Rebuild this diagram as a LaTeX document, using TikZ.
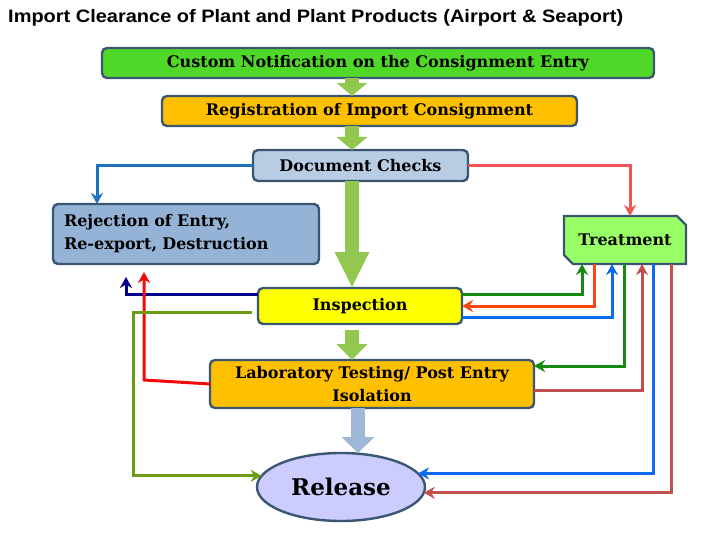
\documentclass[tikz,border=0pt]{standalone}
\usepackage{fontspec}
\setmainfont{DejaVu Serif}
\newfontfamily\titlefont{Liberation Sans}
\usetikzlibrary{arrows.meta, shapes.geometric}

\definecolor{boxline}{RGB}{59,86,114}
\definecolor{notifygreen}{RGB}{80,216,40}
\definecolor{regorange}{RGB}{255,192,0}
\definecolor{docfill}{RGB}{184,204,228}
\definecolor{rejectfill}{RGB}{149,179,215}
\definecolor{treatfill}{RGB}{153,255,102}
\definecolor{inspyellow}{RGB}{255,255,0}
\definecolor{releasefill}{RGB}{204,204,255}
\definecolor{arrowgreen}{RGB}{146,200,80}
\definecolor{arrowblue}{RGB}{160,184,216}
\definecolor{docblue}{RGB}{30,115,190}
\definecolor{docred}{RGB}{240,85,85}
\definecolor{navy}{RGB}{0,0,140}
\definecolor{labred}{RGB}{240,10,10}
\definecolor{olive}{RGB}{110,155,20}
\definecolor{okgreen}{RGB}{20,140,20}
\definecolor{orangered}{RGB}{250,70,20}
\definecolor{brightblue}{RGB}{15,105,240}
\definecolor{brickred}{RGB}{192,80,77}

\begin{document}
\begin{tikzpicture}[
  x = 1pt, y = -1pt,
  box/.style = {
    shape = rectangle,
    rounded corners = 5pt,
    draw = boxline,
    line width = 2.4pt,
    font = \fontsize{16}{23}\selectfont\bfseries,
    inner sep = 0pt,
    outer sep = 0pt,
  },
  conn/.style = {
    line width = 3pt,
    -{Stealth[length = 11pt, width = 12pt]},
  },
  fat/.style = {
    line width = 14pt,
    -{Triangle[length = 13pt, width = 30pt]},
  }
]
  \useasboundingbox (0, 0) rectangle (720, 540);

  \node[anchor = base west, inner sep = 0pt,
    font = \titlefont\bfseries\fontsize{18}{20}\selectfont] (title) at (8, 23)
    {\scalebox{1.11}[1]{Import Clearance of Plant and Plant Products (Airport \& Seaport)}};

  \node[box, fill = notifygreen, minimum width = 552pt, minimum height = 30pt] (notify) at (378, 63)
    {Custom Notification on the Consignment Entry};
  \node[box, fill = regorange, minimum width = 415pt, minimum height = 30pt] (regist) at (369.5, 111)
    {Registration of Import Consignment};
  \node[box, fill = docfill, minimum width = 215pt, minimum height = 31pt] (docs) at (360.5, 165.5)
    {Document Checks};
  \node[box, fill = rejectfill, minimum width = 266pt, minimum height = 60pt,
    text width = 244pt, align = left] (reject) at (186, 234)
    {Rejection of Entry,\\Re-export, Destruction};

  \path[fill = treatfill, draw = boxline, line width = 2.4pt]
    (564, 216) -- (677, 216) -- (686, 225) -- (686, 264) -- (573, 264) -- (564, 255) -- cycle;
  \node[box, draw = none, minimum width = 122pt, minimum height = 48pt] (treat) at (625, 240)
    {Treatment};

  \node[box, fill = inspyellow, minimum width = 204pt, minimum height = 36pt] (insp) at (360, 306)
    {Inspection};
  \node[box, fill = regorange, minimum width = 324pt, minimum height = 48pt, align = center] (lab) at (372, 384)
    {Laboratory Testing/ Post Entry\\Isolation};
  \node[box, shape = ellipse, fill = releasefill, minimum width = 168pt, minimum height = 68pt,
    font = \fontsize{23}{28}\selectfont\bfseries] (rel) at (341, 487)
    {Release};

  \coordinate (axis) at (352, 0);
  \coordinate (axisb) at (358, 0);

  \draw[fat, arrowgreen] (notify.south -| axis) -- (regist.north -| axis);
  \draw[fat, arrowgreen] (regist.south -| axis) -- (docs.north -| axis);
  \draw[fat, arrowgreen, -{Triangle[length = 36pt, width = 32pt]}] (docs.south -| axis) -- (insp.north -| axis);
  \draw[fat, arrowgreen, -{Triangle[length = 16pt, width = 30pt]}] ([yshift = -6pt]insp.south -| axis) -- (lab.north -| axis);
  \draw[fat, arrowblue, -{Triangle[length = 16pt, width = 32pt]}] (lab.south -| axisb) -- (rel.north -| axisb);

  \begin{scope}[every path/.style = { conn }]
    \draw[docblue] (docs.west) -| ([xshift = -89pt]reject.north);
    \draw[docred] (docs.east) -| ([xshift = 5pt]treat.north);

    \draw[navy] ([yshift = 12pt]insp.west) -| ([xshift = -60pt, yshift = -13pt]reject.south);
    \draw[labred] (lab.west) -- ++(-66, -4) -- ([xshift = -42pt, yshift = -8pt]reject.south);
    \draw[olive] ([xshift = -6pt, yshift = -6pt]insp.west) -- ++(-119, 0) |- (rel.172);

    \draw[okgreen] ([yshift = 12pt]insp.east) -| ([xshift = -43pt]treat.south);
    \draw[orangered] ([xshift = -31pt]treat.south) |- (insp.east);
    \draw[brightblue] ([yshift = -11pt]insp.east) -| ([xshift = -13pt]treat.south);
    \draw[okgreen] ([xshift = -1pt]treat.south) |- ([yshift = 18pt]lab.east);
    \draw[brickred] ([yshift = -6pt]lab.east) -| ([xshift = 17pt]treat.south);
    \draw[brightblue] ([xshift = 28pt]treat.south) |- (rel.10);
    \draw[brickred] ([xshift = 46pt]treat.south) |- (rel.-4);
  \end{scope}
\end{tikzpicture}
\end{document}
